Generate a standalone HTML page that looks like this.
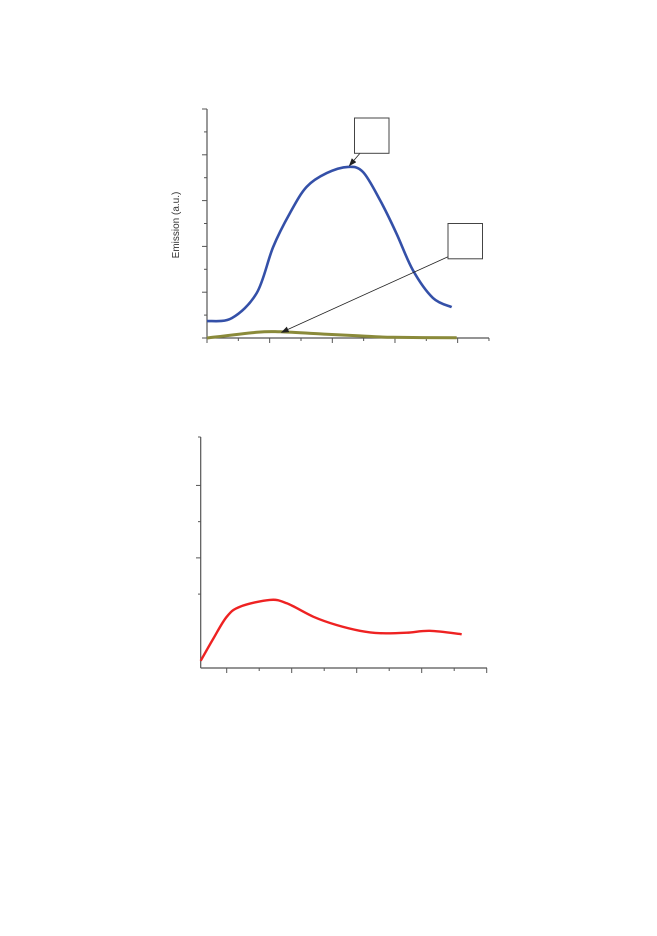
<!DOCTYPE html>
<html><head><meta charset="utf-8"><style>
html,body{margin:0;padding:0;background:#fff;}
svg{display:block;}
</style></head><body>
<svg id="s" width="657" height="936" xmlns="http://www.w3.org/2000/svg">
<rect width="657" height="936" fill="#fff"/>
<g id="c1"></g>
<g id="c2"></g>
</svg>
<script>
// Chart 1 data
const blueX = [0, 0.79, 1.59, 2.11, 2.65, 3.18, 3.82, 4.5, 4.98, 5.52, 6.04, 6.57, 7.21, 7.81];
const blueY = [0.74, 0.87, 1.97, 3.97, 5.46, 6.6, 7.2, 7.47, 7.25, 6.03, 4.59, 2.97, 1.75, 1.35];
const oliveX = [0, 1.59, 2.34, 3.82, 4.89, 5.94, 7.97];
const oliveY = [0, 0.25, 0.27, 0.16, 0.09, 0.03, 0.01];
// Chart 2 data
const redX = [-0.8, -0.41, 0, 0.41, 1.33, 1.85, 2.67, 3.38, 4.1, 4.72, 5.54, 6.25, 7.23];
const redY = [0.15, 0.61, 1.06, 1.27, 1.41, 1.34, 1.06, 0.89, 0.77, 0.72, 0.73, 0.77, 0.70];

const NS = "http://www.w3.org/2000/svg";
function mk(parent, tag, attrs){const e=document.createElementNS(NS,tag);for(const k in attrs)e.setAttribute(k,attrs[k]);parent.appendChild(e);return e;}
function smooth(pts){
  let d="M"+pts[0][0].toFixed(1)+","+pts[0][1].toFixed(1);
  for(let i=0;i<pts.length-1;i++){
    const p0=pts[i-1]||pts[i],p1=pts[i],p2=pts[i+1],p3=pts[i+2]||p2;
    const c1=[p1[0]+(p2[0]-p0[0])/6,p1[1]+(p2[1]-p0[1])/6];
    const c2=[p2[0]-(p3[0]-p1[0])/6,p2[1]-(p3[1]-p1[1])/6];
    d+=` C${c1[0].toFixed(1)},${c1[1].toFixed(1)} ${c2[0].toFixed(1)},${c2[1].toFixed(1)} ${p2[0].toFixed(1)},${p2[1].toFixed(1)}`;
  }
  return d;
}
// ---- Chart 1 ----
const g1=document.getElementById('c1');
const x1=v=>207+31.33*v, y1=v=>338-22.9*v;
let e;
e=mk(g1,'line',{x1:207,y1:109,x2:207,y2:338,stroke:'#555','stroke-width':1.2});


e=mk(g1,'line',{x1:207,y1:338,x2:489,y2:338,stroke:'#555','stroke-width':1.2});


for(let i=0;i<=10;i++){
  e=mk(g1,'line',{x1:i%2===0?202:204,y1:y1(i),x2:207,y2:y1(i),stroke:'#555','stroke-width':1});
  
  
}
for(let i=0;i<=9;i++){
  e=mk(g1,'line',{x1:x1(i),y1:338,x2:x1(i),y2:i%2===0?343:341,stroke:'#555','stroke-width':1});
  
  
}
e=mk(g1,'text',{x:0,y:0,transform:'translate(179,225) rotate(-90)','text-anchor':'middle','font-family':'Liberation Sans, sans-serif','font-size':'10',fill:'#333'});
e.textContent='Emission (a.u.)';


e=mk(g1,'path',{d:smooth(oliveX.map((v,i)=>[x1(v),y1(oliveY[i])])),fill:'none',stroke:'#8a8a3a','stroke-width':3});


e=mk(g1,'path',{d:smooth(blueX.map((v,i)=>[x1(v),y1(blueY[i])])),fill:'none',stroke:'#3450a8','stroke-width':2.6});


const defs=mk(document.getElementById('s'),'defs',{});
const mkr=mk(defs,'marker',{id:'ah',markerWidth:8,markerHeight:6,refX:7,refY:3,orient:'auto',markerUnits:'userSpaceOnUse'});
mk(mkr,'path',{d:'M0,0 L8,3 L0,6 z',fill:'#222'});
e=mk(g1,'line',{x1:360,y1:153.3,x2:349.5,y2:165.5,stroke:'#222','stroke-width':0.8,'marker-end':'url(#ah)'});


e=mk(g1,'line',{x1:448,y1:256.7,x2:281.7,y2:332.3,stroke:'#222','stroke-width':0.8,'marker-end':'url(#ah)'});


e=mk(g1,'rect',{x:354.5,y:118,width:34.5,height:35.3,fill:'#fff',stroke:'#444','stroke-width':1});


e=mk(g1,'rect',{x:448,y:223.5,width:34.5,height:35.3,fill:'#fff',stroke:'#444','stroke-width':1});


// ---- Chart 2 ----
const g2=document.getElementById('c2');
const x2=v=>226.7+32.5*v, y2=v=>668-48.3*v;
e=mk(g2,'line',{x1:200.7,y1:437,x2:200.7,y2:668,stroke:'#555','stroke-width':1.2});


e=mk(g2,'line',{x1:200.7,y1:668,x2:487,y2:668,stroke:'#555','stroke-width':1.2});


for(let i=1;i<=4;i++){
  e=mk(g2,'line',{x1:i%2===0?196:198,y1:y2(i*0.75+0.78),x2:200.7,y2:y2(i*0.75+0.78),stroke:'#555','stroke-width':1});
  
  
}
e=mk(g2,'line',{x1:198,y1:437,x2:200.7,y2:437,stroke:'#555','stroke-width':1});


for(let i=0;i<=8;i++){
  e=mk(g2,'line',{x1:x2(i),y1:668,x2:x2(i),y2:i%2===0?673:671,stroke:'#555','stroke-width':1});
  
  
}
e=mk(g2,'path',{d:smooth(redX.map((v,i)=>[x2(v),y2(redY[i])])),fill:'none',stroke:'#ee2222','stroke-width':2.4});


</script>
</body></html>
